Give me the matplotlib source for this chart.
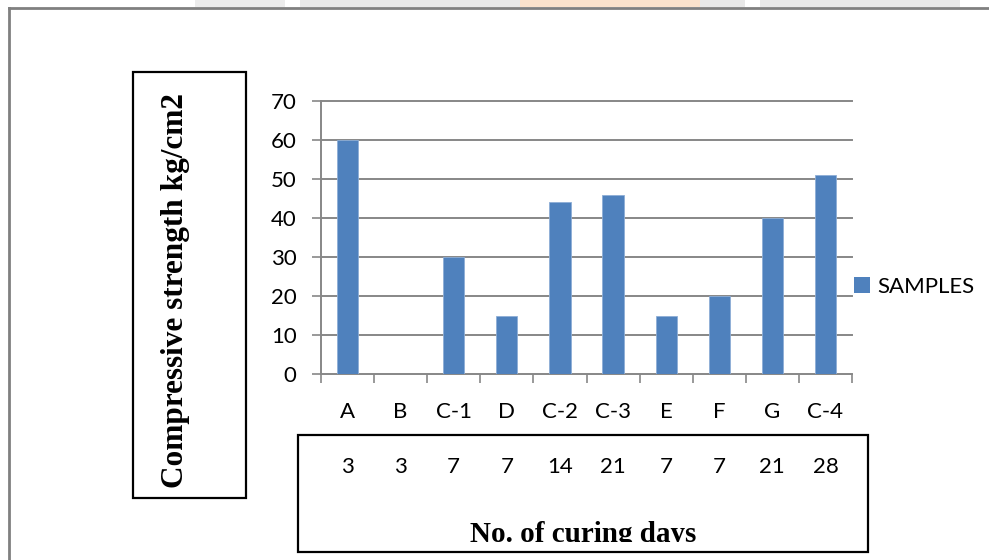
import matplotlib
matplotlib.use("Agg")
import matplotlib.pyplot as plt
from matplotlib.patches import Rectangle, Patch
from matplotlib.transforms import blended_transform_factory

categories = ["A", "B", "C-1", "D", "C-2", "C-3", "E", "F", "G", "C-4"]
strength = [60, 0, 30, 15, 44, 46, 15, 20, 40, 51]
curing_days = ["3", "3", "7", "7", "14", "21", "7", "7", "21", "28"]
y_ticks = [0, 10, 20, 30, 40, 50, 60, 70]
series_name = "SAMPLES"
y_title = "Compressive strength kg/cm2"
x_title = "No. of curing days"

W, H = 989, 560
fig = plt.figure(figsize=(W / 100, H / 100), dpi=100)
fig.patch.set_facecolor("white")

def fx(x):
    return x / W

def fy(y):
    return 1 - y / H

SANS = ["Lato", "DejaVu Sans"]
SERIF = ["Liberation Serif", "DejaVu Serif"]
GRID = "#878787"
BAR = "#4F81BD"

# faint watermark band at the very top
for x0, x1, c in [(195, 285, "#ececec"), (300, 520, "#e8e8e8"), (520, 700, "#fbe2cc"),
                  (700, 745, "#e8e8e8"), (760, 960, "#e8e8e8")]:
    fig.add_artist(Rectangle((fx(x0), fy(7)), fx(x1 - x0), 7 / H, transform=fig.transFigure,
                             facecolor=c, edgecolor="none", zorder=0))

# outer page frame (gray)
fig.add_artist(plt.Line2D([fx(9), fx(W + 5)], [fy(8), fy(8)], transform=fig.transFigure,
                          color="#808080", lw=2.0))
fig.add_artist(plt.Line2D([fx(9), fx(9)], [fy(8), fy(H + 5)], transform=fig.transFigure,
                          color="#808080", lw=2.0))

# plot area
ax = fig.add_axes([fx(321), fy(374), fx(852 - 321), (374 - 101) / H])
x = list(range(len(categories)))
ax.bar(x, strength, width=0.4, color=BAR, edgecolor="#8eaed6", linewidth=0.6, zorder=3)
ax.set_xlim(-0.5, len(categories) - 0.5)
ax.set_ylim(0, 70)

for v in y_ticks[1:]:
    ax.axhline(v, color=GRID, lw=1.4, zorder=1, clip_on=False)

for s in ["top", "right"]:
    ax.spines[s].set_visible(False)
for s in ["left", "bottom"]:
    ax.spines[s].set_color(GRID)
    ax.spines[s].set_linewidth(1.4)

ax.set_yticks(y_ticks)
ax.set_yticklabels([str(v) for v in y_ticks], fontsize=16, family=SANS)
ax.tick_params(axis="y", direction="out", length=6.5, width=1.2, color=GRID, pad=11)

ax.set_xticks(x)
ax.set_xticklabels(categories, fontsize=16, family=SANS)
ax.tick_params(axis="x", which="major", length=0, pad=20)
ax.set_xticks([i - 0.5 for i in range(len(categories) + 1)], minor=True)
ax.tick_params(axis="x", which="minor", direction="out", length=6.5, width=1.2, color=GRID)

# curing days row
tr = blended_transform_factory(ax.transData, fig.transFigure)
for i, d in enumerate(curing_days):
    ax.text(i, fy(467), d, transform=tr, ha="center", va="center", fontsize=16,
            family=SANS, clip_on=False)

# legend
ax.legend(handles=[Patch(facecolor=BAR, edgecolor="none", label=series_name)],
          loc="center left", bbox_to_anchor=(fx(854), fy(287)), bbox_transform=fig.transFigure,
          frameon=False, prop={"family": SANS, "size": 16}, handlelength=0.7,
          handleheight=0.7, handletextpad=0.35, borderpad=0, borderaxespad=0)

# y title box
fig.add_artist(Rectangle((fx(133), fy(498)), fx(246 - 133), (498 - 72) / H,
                         transform=fig.transFigure, fill=False, edgecolor="black", lw=1.6))
fig.text(fx(176), fy(291), y_title, rotation=90, ha="center", va="center",
         fontsize=22.5, fontweight="bold", family=SERIF)

# x title box
fig.add_artist(Rectangle((fx(298), fy(552)), fx(868 - 298), (552 - 435) / H,
                         transform=fig.transFigure, fill=False, edgecolor="black", lw=1.6))
t = fig.text(fx(583), fy(542), x_title, ha="center", va="baseline",
             fontsize=21, fontweight="bold", family=SERIF)
clip = Rectangle((fx(298), fy(542)), fx(868 - 298), (542 - 435) / H,
                 transform=fig.transFigure, visible=False)
fig.add_artist(clip)
t.set_clip_path(clip)

fig.savefig("out.png", dpi=100)
